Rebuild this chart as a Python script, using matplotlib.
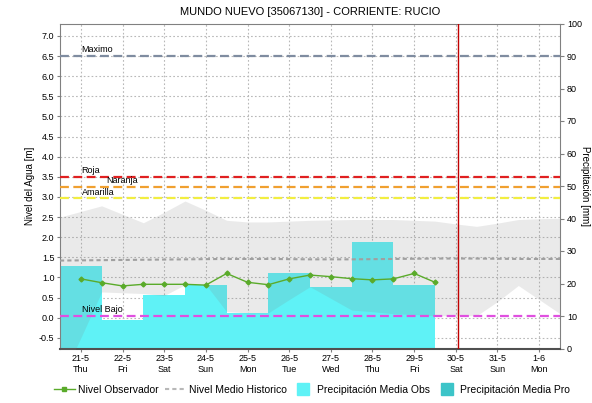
import numpy as np
import matplotlib
matplotlib.use("Agg")
import matplotlib.pyplot as plt
from matplotlib.lines import Line2D

plt.rcParams['font.family'] = ['Liberation Sans', 'DejaVu Sans']

# --- datos ---
dias = ['21-5', '22-5', '23-5', '24-5', '25-5', '26-5', '27-5', '28-5', '29-5', '30-5', '31-5', '1-6']
dias_sem = ['Thu', 'Fri', 'Sat', 'Sun', 'Mon', 'Tue', 'Wed', 'Thu', 'Fri', 'Sat', 'Sun', 'Mon']

# nivel observado cada 12 h desde 21-5
nivel_obs = [0.965, 0.87, 0.79, 0.83, 0.83, 0.83, 0.81, 1.10, 0.88,
             0.82, 0.965, 1.06, 1.02, 0.97, 0.94, 0.965, 1.10, 0.88]

# nivel medio historico, a las 00h de cada dia (21-5 ... 2-6)
nivel_medio = [1.42, 1.43, 1.44, 1.45, 1.46, 1.46, 1.45, 1.45, 1.46, 1.47, 1.47, 1.46, 1.46]

# banda historica (min / max), cada 12 h desde 21-5 00h
banda_max = [2.50, 2.64, 2.78, 2.57, 2.36, 2.62, 2.90, 2.67, 2.42, 2.38, 2.38, 2.40, 2.42,
             2.43, 2.44, 2.44, 2.44, 2.42, 2.40, 2.33, 2.27, 2.35, 2.44, 2.46, 2.47]
banda_min = [-1.60, -0.50, 0.64, 0.62, 0.60, 0.55, 0.82, 0.82, 0.15, 0.12, 0.12, 0.45, 0.77,
             0.48, 0.19, 0.15, 0.10, 0.08, 0.05, 0.05, 0.05, 0.40, 0.80, 0.45, 0.10]

# precipitacion media observada [mm]
precip_obs = [25.5, 8.7, 16.5, 19.5, 10.8, 23.3, 19.0, 32.7, 19.4]

# umbrales
umbrales = {'Maximo': 6.5, 'Roja': 3.5, 'Naranja': 3.25, 'Amarilla': 2.97, 'Nivel Bajo': 0.05}
colores_umbral = {'Maximo': '#7f8ca0', 'Roja': '#e02020', 'Naranja': '#f0a030',
                  'Amarilla': '#f2ee40', 'Nivel Bajo': '#e050e0'}
pos_texto = {'Maximo': 0.02, 'Roja': 0.02, 'Naranja': 0.6, 'Amarilla': 0.02, 'Nivel Bajo': 0.02}

ahora = 9.05

x_dias = np.arange(len(dias))
x_obs = np.arange(len(nivel_obs)) * 0.5
x_banda = np.arange(len(banda_max)) * 0.5 - 0.5
x_medio = np.arange(len(nivel_medio)) - 0.5

cyan = '#5ff2f6'
cyan_pro = '#3cc4c8'
verde = '#5aab2a'

fig = plt.figure(figsize=(5.92, 4.03), dpi=100)
pos = [60 / 592, 1 - 348.5 / 403, 500 / 592, 325 / 403]

ax = fig.add_axes(pos, zorder=1)
ax2 = ax.twinx()
ax2.set_zorder(2)
ax3 = fig.add_axes(pos, sharex=ax, sharey=ax, zorder=3)
ax3.patch.set_visible(False)
ax3.axis('off')

ax.set_xlim(-0.5, 11.5)
ax.set_ylim(-0.765, 7.31)
ax2.set_ylim(0, 100)

# grid
ax.set_yticks(np.arange(-0.5, 7.01, 0.5))
ax.set_yticklabels([f'{v:.1f}' for v in np.arange(-0.5, 7.01, 0.5)], fontsize=6.5)
ax.set_xticks(x_dias)
ax.set_xticklabels([f'{d}\n{s}' for d, s in zip(dias, dias_sem)], fontsize=6.5, linespacing=1.3)
ax.grid(True, color='#b8b8b8', linestyle=(0, (1.5, 2)), linewidth=0.8)
ax.tick_params(axis='both', length=2, color='#808080', pad=2)
for s in ax.spines.values():
    s.set_visible(False)

# barras de precipitacion
ax2.patch.set_visible(False)
ax2.bar(x_dias[:len(precip_obs)], precip_obs, width=1.0, color=cyan, linewidth=0)
ax2.set_yticks(np.arange(0, 101, 10))
ax2.set_yticklabels([str(v) for v in range(0, 101, 10)], fontsize=6.5)
ax2.tick_params(axis='y', length=3, color='#808080', pad=2)
for nombre in ['left', 'right', 'top']:
    ax2.spines[nombre].set_color('#808080')
    ax2.spines[nombre].set_linewidth(0.8)
ax2.spines['bottom'].set_color('#505050')
ax2.spines['bottom'].set_linestyle((0, (1, 1)))
ax2.spines['bottom'].set_linewidth(1.5)

# banda historica
ax3.fill_between(x_banda, banda_min, banda_max, color='#808080', alpha=0.16, linewidth=0)
ax3.plot(x_medio, nivel_medio, color='#a0a0a0', linestyle=(0, (2, 1.5)), linewidth=1.5)

# umbrales
for nombre, valor in umbrales.items():
    ax3.axhline(valor, color=colores_umbral[nombre], linewidth=1.6, dashes=(4, 2))
    ax3.text(pos_texto[nombre], valor + 0.04, nombre, fontsize=6.5, va='bottom', ha='left')

ax3.plot(x_obs, nivel_obs, color=verde, linewidth=1.0, marker='D', markersize=2.5)
ax3.axvline(ahora, color='#c00000', linewidth=1.0)

fig.text(310 / 592, 1 - 12 / 403, 'MUNDO NUEVO [35067130] - CORRIENTE: RUCIO',
         ha='center', va='center', fontsize=8)
fig.text(30 / 592, 0.538, 'Nivel del Agua [m]', rotation=90, ha='center', va='center', fontsize=7)
fig.text(585 / 592, 0.538, 'Precipitación [mm]', rotation=270, ha='center', va='center', fontsize=7)

handles = [
    Line2D([], [], color=verde, marker='s', markersize=3, linewidth=1.0),
    Line2D([], [], color='#b8b8b8', linestyle=(0, (2, 1.5)), linewidth=1.5),
    Line2D([], [], color=cyan, marker='s', markersize=8, linestyle='none'),
    Line2D([], [], color=cyan_pro, marker='s', markersize=8, linestyle='none'),
]
etiquetas = ['Nivel Observador', 'Nivel Medio Historico', 'Precipitación Media Obs', 'Precipitación Media Pro']
fig.legend(handles, etiquetas, loc='center', bbox_to_anchor=(312 / 592, 1 - 390 / 403), ncol=4,
           frameon=False, fontsize=7.5, handlelength=2.0, handletextpad=0.3, columnspacing=0.6)

fig.savefig('out.png', dpi=100)
